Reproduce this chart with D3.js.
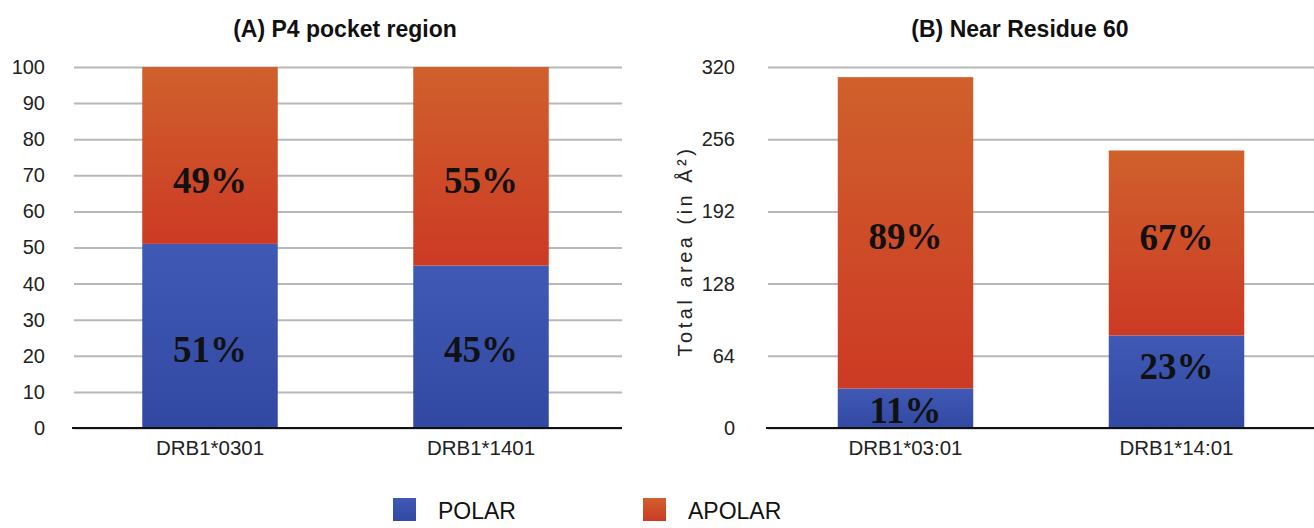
<!DOCTYPE html>
<html><head><meta charset="utf-8">
<script src="https://cdn.jsdelivr.net/npm/d3@7"></script>
<style>body{margin:0;background:#fff}svg{display:block}</style>
</head><body>
<svg id="c" width="1314" height="528"></svg>
<script>
// ---- data ----
const catsA = ["DRB1*0301", "DRB1*1401"];
const polarA = [51, 45];
const apolarA = [49, 55];
const labelsPolarA = ["51%", "45%"];
const labelsApolarA = ["49%", "55%"];
const ticksA = [0, 10, 20, 30, 40, 50, 60, 70, 80, 90, 100];

const catsB = ["DRB1*03:01", "DRB1*14:01"];
const polarB = [35, 82];
const apolarB = [276, 164];
const labelsPolarB = ["11%", "23%"];
const labelsApolarB = ["89%", "67%"];
const ticksB = [0, 64, 128, 192, 256, 320];

const series = ["POLAR", "APOLAR"];

// ---- drawing ----
const svg = d3.select("#c");
const defs = svg.append("defs");
const gBlue = defs.append("linearGradient").attr("id","gBlue").attr("x1",0).attr("y1",0).attr("x2",0).attr("y2",1);
gBlue.append("stop").attr("offset","0%").attr("stop-color","#3f59b4");
gBlue.append("stop").attr("offset","100%").attr("stop-color","#3249a3");
const gRed = defs.append("linearGradient").attr("id","gRed").attr("x1",0).attr("y1",0).attr("x2",0).attr("y2",1);
gRed.append("stop").attr("offset","0%").attr("stop-color","#d0602c");
gRed.append("stop").attr("offset","100%").attr("stop-color","#cc3a24");
const fills = ["url(#gBlue)", "url(#gRed)"];

const font = "'Liberation Sans', Arial, Helvetica, sans-serif";
const serif = "'Liberation Serif', 'Times New Roman', serif";

function panel(cfg) {
  const g = svg.append("g");
  const y = d3.scaleLinear().domain([cfg.ticks[0], cfg.ticks[cfg.ticks.length-1]]).range([428, 67]);
  const x = d3.scaleBand().domain(cfg.cats).range([cfg.x0, cfg.x1]).paddingInner(0.5).paddingOuter(0.25);

  // grid + tick labels
  const axis = d3.axisLeft(y).tickValues(cfg.ticks).tickSize(-(cfg.gx1 - cfg.gx0)).tickPadding(cfg.tpad);
  const ag = g.append("g").attr("transform", `translate(${cfg.gx0},0)`).call(axis);
  ag.select(".domain").remove();
  ag.selectAll(".tick line").attr("stroke", "#b8b8b8").attr("stroke-width", 2);
  ag.selectAll(".tick text").attr("font-family", font).attr("font-size", 20).attr("fill", "#222");

  // bars
  const data = cfg.cats.map((c, i) => ({c, i, p: cfg.polar[i], a: cfg.apolar[i], lp: cfg.lp[i], la: cfg.la[i]}));
  data.forEach(d => {
    g.append("rect").attr("x", x(d.c)).attr("width", x.bandwidth())
      .attr("y", y(d.p)).attr("height", y(0) - y(d.p)).attr("fill", fills[0]);
    g.append("rect").attr("x", x(d.c)).attr("width", x.bandwidth())
      .attr("y", y(d.p + d.a)).attr("height", y(d.p) - y(d.p + d.a)).attr("fill", fills[1]);
    g.append("text").attr("x", x(d.c) + x.bandwidth()/2).attr("y", y(d.p/2) + cfg.offP[d.i])
      .attr("text-anchor","middle").attr("dominant-baseline","central")
      .attr("font-family", serif).attr("font-weight","bold")
      .attr("font-size", 37).attr("fill","#111").text(d.lp);
    g.append("text").attr("x", x(d.c) + x.bandwidth()/2).attr("y", y(d.p + d.a/2) + cfg.offA[d.i])
      .attr("text-anchor","middle").attr("dominant-baseline","central")
      .attr("font-family", serif).attr("font-weight","bold")
      .attr("font-size", 37).attr("fill","#111").text(d.la);
  });

  // baseline
  g.append("line").attr("x1", cfg.gx0 - 2).attr("x2", cfg.gx1).attr("y1", y(0)).attr("y2", y(0))
    .attr("stroke", "#111").attr("stroke-width", 2);

  // category labels
  const xa = d3.axisBottom(x).tickSize(0).tickPadding(12);
  const xg = g.append("g").attr("transform", `translate(0,${y(0)})`).call(xa);
  xg.select(".domain").remove();
  xg.selectAll("text").attr("font-family", font).attr("font-size", 20.5).attr("fill", "#222");

  // title
  g.append("text").attr("x", cfg.tx).attr("y", 37).attr("text-anchor","middle")
    .attr("font-family", font).attr("font-weight","bold").attr("font-size", 23).attr("fill","#111").text(cfg.title);
  return g;
}

panel({cats: catsA, polar: polarA, apolar: apolarA, lp: labelsPolarA, la: labelsApolarA, ticks: ticksA,
  x0: 74.5, x1: 616.5, gx0: 74, gx1: 622, tpad: 29, offP: [14, 3], offA: [25, 14],
  tx: 345, title: "(A) P4 pocket region"});

const gB = panel({cats: catsB, polar: polarB, apolar: apolarB, lp: labelsPolarB, la: labelsApolarB, ticks: ticksB,
  x0: 770, x1: 1312, gx0: 768, gx1: 1314, tpad: 33, offP: [2, -15], offA: [4, -5],
  tx: 1020, title: "(B) Near Residue 60"});

gB.append("text").attr("transform", "translate(692,251) rotate(-90)").attr("text-anchor","middle")
  .attr("font-family", font).attr("font-size", 20).attr("letter-spacing", "3.5px").attr("fill","#222")
  .text("Total area (in Å²)");

// legend
const leg = svg.append("g").selectAll("g").data(series).join("g")
  .attr("transform", (d, i) => `translate(${393 + i*250},498)`);
leg.append("rect").attr("width", 23).attr("height", 23).attr("fill", (d, i) => fills[i]);
leg.append("text").attr("x", 45).attr("y", 21).attr("font-family", font).attr("font-size", 23)
  .attr("fill", "#111").text(d => d);
</script>
</body></html>
